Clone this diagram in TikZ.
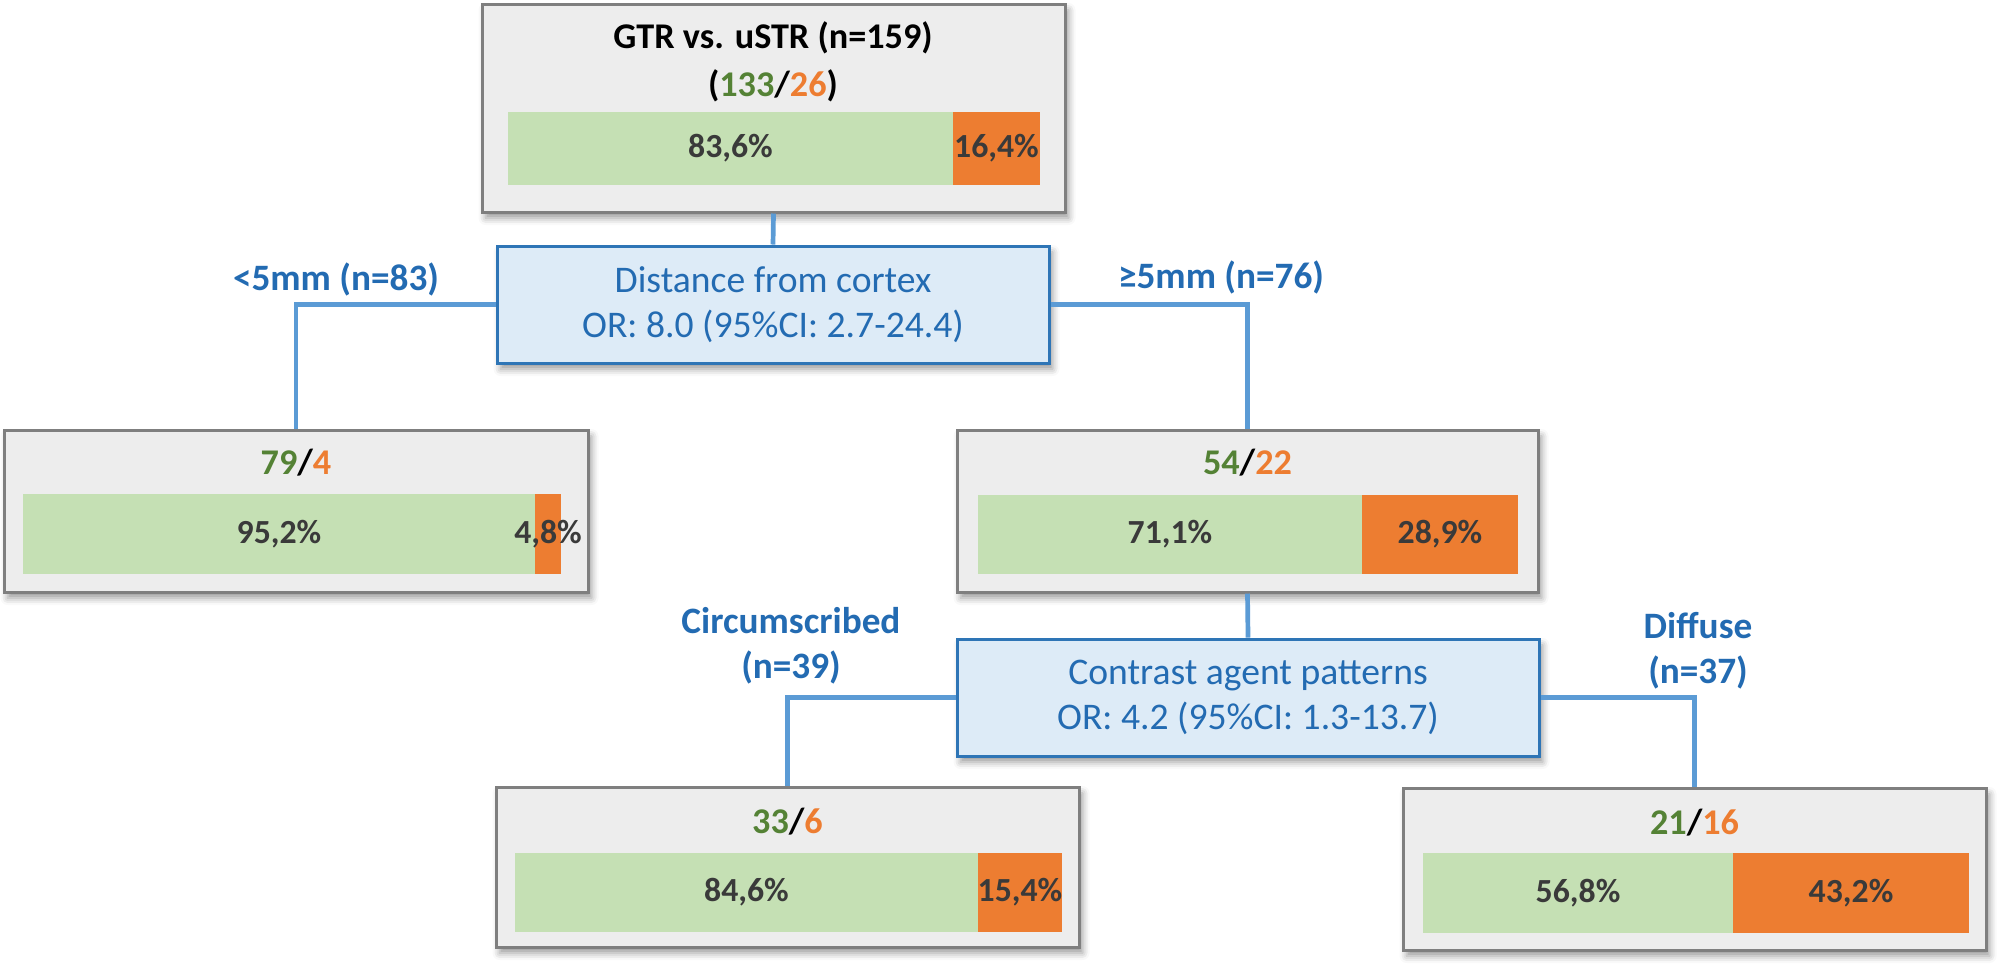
\documentclass[tikz,border=0pt]{standalone}
\usepackage{fontspec}
\setmainfont{Carlito}
\usetikzlibrary{shadows.blur}

\definecolor{boxgray}{HTML}{EDEDED}
\definecolor{edgegray}{HTML}{7F7F7F}
\definecolor{barG}{HTML}{C5E0B4}
\definecolor{barO}{HTML}{ED7D31}
\definecolor{txtG}{HTML}{548235}
\definecolor{txtO}{HTML}{ED7D31}
\definecolor{txtD}{HTML}{3A3A3A}
\definecolor{splitfill}{HTML}{DDEBF7}
\definecolor{splitedge}{HTML}{2E75B6}
\definecolor{txtB}{HTML}{236BB2}
\definecolor{linkB}{HTML}{5B9BD5}

\tikzset{
  boxshadow/.style={blur shadow={shadow xshift=0.35mm, shadow yshift=-0.6mm,
      shadow blur radius=0.7mm, shadow opacity=40}},
  leafbox/.style={draw=edgegray, line width=0.3mm, fill=boxgray, inner sep=0pt, boxshadow},
  splitbox/.style={draw=splitedge, line width=0.3mm, fill=splitfill, inner sep=0pt,
      boxshadow, text=txtB, align=center, font=\fontsize{10.7}{12.8}\selectfont},
  segG/.style={fill=barG, inner sep=0pt},
  segO/.style={fill=barO, inner sep=0pt},
  pct/.style={text=txtD, font=\bfseries\fontsize{9.6}{11}\selectfont},
  count/.style={anchor=base, font=\bfseries\fontsize{10.3}{12}\selectfont},
  branch/.style={anchor=base, text=txtB, align=center, font=\bfseries\fontsize{10.6}{12.8}\selectfont},
  link/.style={draw=linkB, line width=0.47mm},
}

\begin{document}
\begin{tikzpicture}[x=0.1mm, y=-0.1mm]
  \useasboundingbox (0,0) rectangle (2008,971);

  % boxes
  \node[leafbox, minimum width=58.3mm, minimum height=20.8mm] (root) at (773.5, 108) {};
  \node[splitbox, minimum width=55.2mm, minimum height=11.7mm] (dist) at (773, 304.5)
      {Distance from cortex\\OR: 8.0 (95\%CI: 2.7-24.4)};
  \node[leafbox, minimum width=58.4mm, minimum height=16.2mm] (near) at (296, 511) {};
  \node[leafbox, minimum width=58.1mm, minimum height=16.2mm] (far) at (1247.5, 511) {};
  \node[splitbox, minimum width=58.2mm, minimum height=11.7mm] (contrast) at (1248, 697.5)
      {Contrast agent patterns\\OR: 4.2 (95\%CI: 1.3-13.7)};
  \node[leafbox, minimum width=58.3mm, minimum height=16.0mm] (circ) at (787.5, 867) {};
  \node[leafbox, minimum width=58.3mm, minimum height=16.2mm] (diff) at (1694.5, 869) {};

  % counts
  \node[count] (rootT) at (773, 48) {GTR vs. uSTR (n=159)};
  \node[count] (rootN) at (773, 96) {({\color{txtG}133}/{\color{txtO}26})};
  \node[count] (nearN) at (296, 474) {{\color{txtG}79}/{\color{txtO}4}};
  \node[count] (farN) at (1247.5, 474) {{\color{txtG}54}/{\color{txtO}22}};
  \node[count] (circN) at (787.5, 833) {{\color{txtG}33}/{\color{txtO}6}};
  \node[count] (diffN) at (1694.5, 834) {{\color{txtG}21}/{\color{txtO}16}};

  % bars
  \node[segG, minimum width=44.5mm, minimum height=7.3mm] (rootG) at (730.5, 148.5) {};
  \node[segO, minimum width=8.7mm, minimum height=7.3mm] (rootO) at (996.5, 148.5) {};
  \node[pct] (rootGp) at (rootG) {83,6\%};
  \node[pct] (rootOp) at (rootO) {16,4\%};

  \node[segG, minimum width=51.2mm, minimum height=8mm] (nearG) at (279, 534) {};
  \node[segO, minimum width=2.6mm, minimum height=8mm] (nearO) at (548, 534) {};
  \node[pct] (nearGp) at (nearG) {95,2\%};
  \node[pct] (nearOp) at (nearO) {4,8\%};

  \node[segG, minimum width=38.4mm, minimum height=7.9mm] (farG) at (1170, 534.5) {};
  \node[segO, minimum width=15.6mm, minimum height=7.9mm] (farO) at (1440, 534.5) {};
  \node[pct] (farGp) at (farG) {71,1\%};
  \node[pct] (farOp) at (farO) {28,9\%};

  \node[segG, minimum width=46.3mm, minimum height=7.9mm] (circG) at (746.5, 892.5) {};
  \node[segO, minimum width=8.4mm, minimum height=7.9mm] (circO) at (1020, 892.5) {};
  \node[pct] (circGp) at (circG) {84,6\%};
  \node[pct] (circOp) at (circO) {15,4\%};

  \node[segG, minimum width=31mm, minimum height=8mm] (diffG) at (1578, 893) {};
  \node[segO, minimum width=23.6mm, minimum height=8mm] (diffO) at (1851, 893) {};
  \node[pct] (diffGp) at (diffG) {56,8\%};
  \node[pct] (diffOp) at (diffO) {43,2\%};

  % branches
  \draw[link] (root.south) -- (dist.north);
  \draw[link] (dist.west) -| (near.north);
  \draw[link] (dist.east) -| (far.north);
  \draw[link] (far.south) -- (contrast.north);
  \draw[link] (contrast.west) -| (circ.north);
  \draw[link] (contrast.east) -| (diff.north);

  \node[branch] (nearL) at (336, 290) {<5mm (n=83)};
  \node[branch] (farL) at (1221, 288) {≥5mm (n=76)};
  \node[branch] (circL) at (791, 678) {Circumscribed\\(n=39)};
  \node[branch] (diffL) at (1698, 683) {Diffuse\\(n=37)};
\end{tikzpicture}
\end{document}
